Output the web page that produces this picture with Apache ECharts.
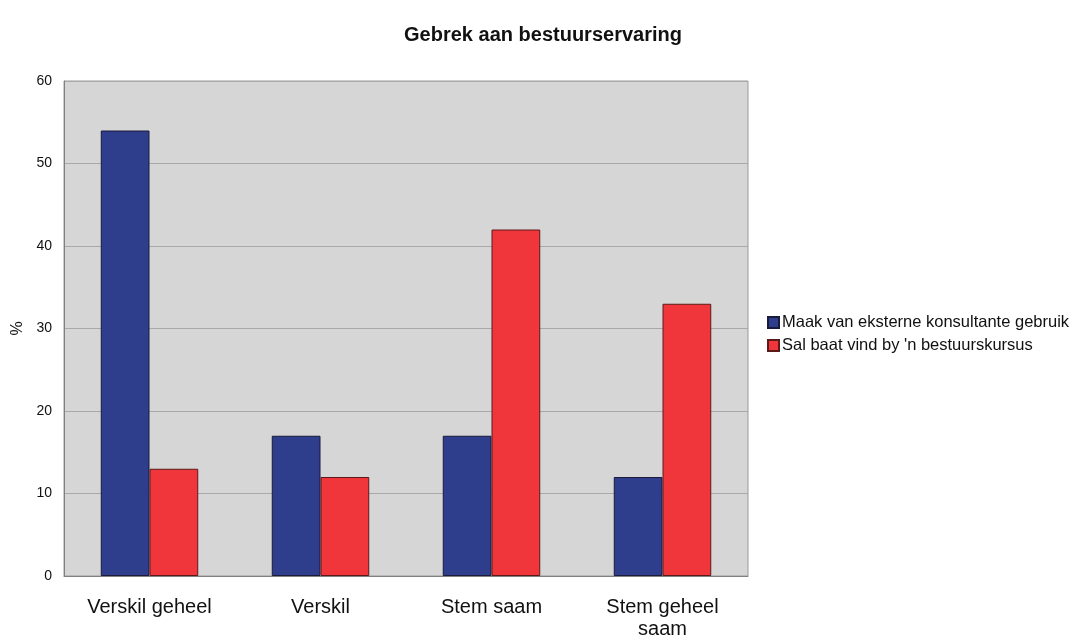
<!DOCTYPE html>
<html>
<head>
<meta charset="utf-8">
<script src="https://cdn.jsdelivr.net/npm/echarts@6/dist/echarts.min.js"></script>
<style>
  html, body { margin: 0; padding: 0; background: #ffffff; }
  #chart { width: 1081px; height: 641px; }
</style>
</head>
<body>
<div id="chart"></div>
<script>
// Survey responses, percentage per answer option
const categories = ['Verskil geheel', 'Verskil', 'Stem saam', 'Stem geheel\nsaam'];
const seriesNames = ['Maak van eksterne konsultante gebruik', "Sal baat vind by 'n bestuurskursus"];
const consultantValues = [54, 17, 17, 12];
const courseValues = [13, 12, 42, 33];
const yTicks = [0, 10, 20, 30, 40, 50, 60];

const FONT = '"Liberation Sans", Arial, sans-serif';
const chart = echarts.init(document.getElementById('chart'), null, { renderer: 'canvas' });

chart.setOption({
  backgroundColor: '#ffffff',
  animation: false,
  title: {
    text: 'Gebrek aan bestuurservaring',
    left: 538,
    top: 20,
    textAlign: 'center',
    textStyle: { fontFamily: FONT, fontSize: 20, fontWeight: 'bold', color: '#111' }
  },
  legend: {
    orient: 'vertical',
    left: 762,
    top: 309,
    itemWidth: 11,
    itemHeight: 11,
    itemGap: 6,
    icon: 'rect',
    textStyle: { fontFamily: FONT, fontSize: 16.5, color: '#111', padding: [0, 0, 0, -2] },
    data: seriesNames
  },
  grid: {
    left: 64,
    right: 1081 - 748,
    top: 81,
    bottom: 641 - 576,
    show: true,
    backgroundColor: '#d6d6d6',
    borderColor: '#9a9a9a',
    borderWidth: 1
  },
  xAxis: {
    type: 'category',
    data: categories,
    axisTick: { show: false },
    axisLine: { lineStyle: { color: '#808080' } },
    axisLabel: {
      fontFamily: FONT, fontSize: 20, color: '#111', margin: 20, lineHeight: 22
    }
  },
  yAxis: {
    type: 'value',
    min: yTicks[0],
    max: yTicks[yTicks.length - 1],
    interval: 10,
    name: '%',
    nameLocation: 'middle',
    nameGap: 37,
    nameRotate: 90,
    nameTextStyle: { fontFamily: FONT, fontSize: 16, color: '#111' },
    axisLine: { show: true, lineStyle: { color: '#808080' } },
    axisTick: { show: false },
    axisLabel: { fontFamily: FONT, fontSize: 14, color: '#111', margin: 12 },
    splitLine: { lineStyle: { color: '#a9a9a9', width: 1 } }
  },
  series: [
    {
      name: seriesNames[0],
      type: 'bar',
      data: consultantValues,
      barGap: '0%',
      barCategoryGap: '43%',
      itemStyle: { color: '#2e3d8c', borderColor: '#1a1a3a', borderWidth: 1 }
    },
    {
      name: seriesNames[1],
      type: 'bar',
      data: courseValues,
      itemStyle: { color: '#f0363a', borderColor: '#5a1a1a', borderWidth: 1 }
    }
  ]
});
</script>
</body>
</html>
